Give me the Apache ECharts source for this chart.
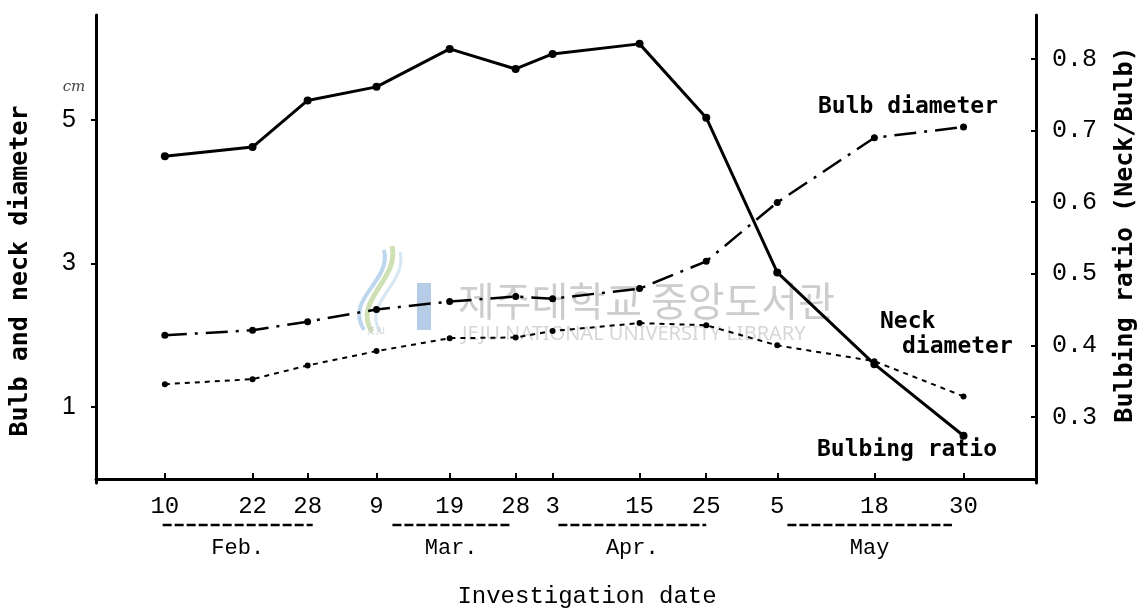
<!DOCTYPE html>
<html>
<head>
<meta charset="utf-8">
<script src="https://cdn.jsdelivr.net/npm/echarts@6/dist/echarts.min.js"></script>
<style>
  html, body { margin: 0; padding: 0; background: #fff; }
  #chart { width: 1148px; height: 614px; }
</style>
</head>
<body>
<div id="chart"></div>
<script>
// investigation dates (day of year, as placed on the figure) and their tick labels
var dayPos = [40.5, 52.6, 60.2, 69.7, 79.8, 88.9, 94.0, 106.0, 115.2, 125.0, 138.4, 150.7];
var dayLabels = ['10', '22', '28', '9', '19', '28', '3', '15', '25', '5', '18', '30'];

// months under the date ticks: name, first and last day covered by the dashed bar
var monthNames = ['Feb.', 'Mar.', 'Apr.', 'May'];
var monthStart = [40.2, 71.9, 94.8, 126.4];
var monthEnd = [60.9, 88.1, 115.2, 149.1];

// cm, left axis
var bulbDiameter = [2.00, 2.07, 2.19, 2.36, 2.47, 2.54, 2.51, 2.65, 3.03, 3.85, 4.75, 4.90];
var neckDiameter = [1.32, 1.39, 1.58, 1.78, 1.96, 1.97, 2.06, 2.17, 2.14, 1.86, 1.64, 1.15];
// neck / bulb, right axis
var bulbingRatio = [0.664, 0.677, 0.742, 0.761, 0.814, 0.786, 0.807, 0.821, 0.718, 0.502, 0.374, 0.274];

var leftTicks = [1, 3, 5];
var rightTicks = [0.3, 0.4, 0.5, 0.6, 0.7, 0.8];

function pairs(vals) {
    return dayPos.map(function (d, i) { return [d, vals[i]]; });
}

var chart = echarts.init(document.getElementById('chart'));

var mono = "'Liberation Mono', 'DejaVu Sans Mono', monospace";
var monoBold = "'DejaVu Sans Mono', monospace";

var option = {
    animation: false,
    backgroundColor: '#fff',
    grid: { left: 95, right: 112, top: 15, bottom: 130 },
    xAxis: {
        type: 'value',
        min: 31,
        max: 160.7,
        splitLine: { show: false },
        axisLine: { lineStyle: { color: '#000', width: 3 } },
        axisTick: {
            customValues: dayPos,
            inside: true,
            length: 6,
            lineStyle: { color: '#000', width: 2 }
        },
        axisLabel: {
            customValues: dayPos,
            margin: 12,
            color: '#000',
            fontFamily: mono,
            fontSize: 24,
            formatter: function (v) {
                var i = dayPos.findIndex(function (d) { return Math.abs(d - v) < 1e-6; });
                return i >= 0 ? dayLabels[i] : '';
            }
        },
        name: 'Investigation date',
        nameLocation: 'middle',
        nameGap: 102,
        nameTextStyle: {
            color: '#000',
            fontFamily: mono,
            fontSize: 24,
            padding: [0, 0, 0, 42]
        }
    },
    yAxis: [
        {
            // cm
            type: 'value',
            min: -0.0556,
            max: 6.4583,
            splitLine: { show: false },
            axisLine: { show: true, lineStyle: { color: '#000', width: 3 } },
            axisTick: {
                show: true,
                customValues: leftTicks,
                length: 5,
                lineStyle: { color: '#000', width: 2 }
            },
            axisLabel: {
                customValues: leftTicks,
                margin: 20,
                color: '#000',
                fontFamily: "'Liberation Sans', sans-serif",
                fontSize: 25
            },
            name: 'Bulb and neck diameter',
            nameLocation: 'middle',
            nameRotate: 90,
            nameGap: 63,
            nameTextStyle: {
                color: '#000',
                fontFamily: monoBold,
                fontWeight: 'bold',
                fontSize: 25,
                padding: [0, 44, 0, 0]
            }
        },
        {
            // ratio
            type: 'value',
            position: 'right',
            min: 0.2081,
            max: 0.8613,
            splitLine: { show: false },
            axisLine: { show: true, lineStyle: { color: '#000', width: 3 } },
            axisTick: {
                show: true,
                customValues: rightTicks,
                inside: true,
                length: 5,
                lineStyle: { color: '#000', width: 2 }
            },
            axisLabel: {
                customValues: rightTicks,
                margin: 16,
                color: '#000',
                fontFamily: mono,
                fontSize: 25,
                formatter: function (v) { return v.toFixed(1); }
            },
            name: 'Bulbing ratio (Neck/Bulb)',
            nameLocation: 'middle',
            nameRotate: 90,
            nameGap: 77,
            nameTextStyle: {
                color: '#000',
                fontFamily: monoBold,
                fontWeight: 'bold',
                fontSize: 25,
                padding: [0, 0, 0, 29]
            }
        }
    ],
    series: [
        {
            name: 'Bulbing ratio',
            type: 'line',
            yAxisIndex: 1,
            data: pairs(bulbingRatio),
            symbol: 'circle',
            symbolSize: 8,
            itemStyle: { color: '#000' },
            lineStyle: { color: '#000', width: 3 },
            z: 4
        },
        {
            name: 'Bulb diameter',
            type: 'line',
            yAxisIndex: 0,
            data: pairs(bulbDiameter),
            symbol: 'circle',
            symbolSize: 7,
            itemStyle: { color: '#000' },
            lineStyle: { color: '#000', width: 2.5, type: [22, 8, 3, 8] },
            z: 3
        },
        {
            name: 'Neck diameter',
            type: 'line',
            yAxisIndex: 0,
            data: pairs(neckDiameter),
            symbol: 'circle',
            symbolSize: 6,
            itemStyle: { color: '#000' },
            lineStyle: { color: '#000', width: 2, type: [5, 5] },
            z: 3
        }
    ]
};

chart.setOption(option);

// text and month bars, placed after the axes exist
var g = [];
var wmGray = '#cdcdcd';

// library watermark
g.push({ type: 'bezierCurve', z: -1, shape: { x1: 372, y1: 332, x2: 392, y2: 246, cpx1: 352, cpy1: 300, cpx2: 400, cpy2: 280 },
    style: { stroke: '#cfe0b4', lineWidth: 5, fill: null } });
g.push({ type: 'bezierCurve', z: -1, shape: { x1: 364, y1: 330, x2: 384, y2: 250, cpx1: 344, cpy1: 298, cpx2: 392, cpy2: 282 },
    style: { stroke: '#bcd6ee', lineWidth: 4, fill: null } });
g.push({ type: 'bezierCurve', z: -1, shape: { x1: 380, y1: 332, x2: 400, y2: 252, cpx1: 362, cpy1: 302, cpx2: 408, cpy2: 284 },
    style: { stroke: '#d6e6f2', lineWidth: 3, fill: null } });
g.push({ type: 'rect', z: -1, shape: { x: 417, y: 283, width: 14, height: 47 }, style: { fill: '#b6cbe6' } });
g.push({ type: 'text', z: -1, x: 368, y: 328, style: { text: 'JE JU', fill: wmGray, font: '8px "Noto Sans"' } });
g.push({ type: 'text', z: -1, x: 458, y: 301,
    style: { text: '제주대학교 중앙도서관', fill: wmGray, font: '40px "Noto Sans CJK KR"', verticalAlign: 'middle' } });
g.push({ type: 'text', z: -1, x: 462, y: 334,
    style: { text: 'JEJU NATIONAL UNIVERSITY LIBRARY', fill: '#d6d6d6', font: '20px "Noto Sans"', verticalAlign: 'middle' } });

// cm unit
g.push({ type: 'text', x: 74, y: 87,
    style: { text: 'cm', fill: '#444', font: 'italic 15px "DejaVu Serif"', align: 'center', verticalAlign: 'middle' } });

// series captions
var capFont = 'bold 23px ' + monoBold;
g.push({ type: 'text', x: 818, y: 107, style: { text: 'Bulb diameter', fill: '#000', font: capFont, verticalAlign: 'middle' } });
g.push({ type: 'text', x: 880, y: 322, style: { text: 'Neck', fill: '#000', font: capFont, verticalAlign: 'middle' } });
g.push({ type: 'text', x: 902, y: 347, style: { text: 'diameter', fill: '#000', font: capFont, verticalAlign: 'middle' } });
g.push({ type: 'text', x: 817, y: 450, style: { text: 'Bulbing ratio', fill: '#000', font: capFont, verticalAlign: 'middle' } });

// months
for (var i = 0; i < monthNames.length; i++) {
    var x1 = chart.convertToPixel({ xAxisIndex: 0 }, monthStart[i]);
    var x2 = chart.convertToPixel({ xAxisIndex: 0 }, monthEnd[i]);
    g.push({ type: 'line', shape: { x1: x1, y1: 525, x2: x2, y2: 525 },
        style: { stroke: '#000', lineWidth: 2.5, lineDash: [9, 3] } });
    g.push({ type: 'text', x: (x1 + x2) / 2, y: 548,
        style: { text: monthNames[i], fill: '#000', font: '22px ' + mono, align: 'center', verticalAlign: 'middle' } });
}

chart.setOption({ graphic: g });
</script>
</body>
</html>
